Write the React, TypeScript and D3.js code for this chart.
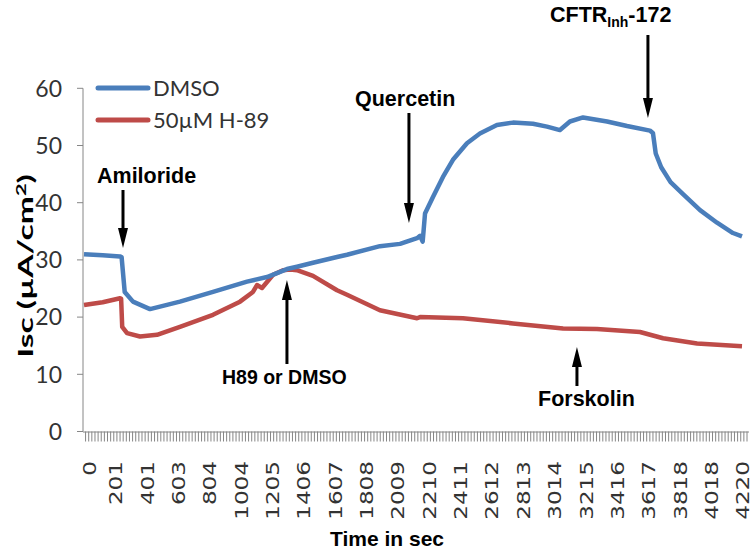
import React from "react";
import * as d3 from "d3";

// ---- data (time in s, Isc in µA/cm²) ----
const dmsoTime = [0, 120, 231, 241, 261, 314, 423, 615, 827, 1045, 1173, 1301, 1365, 1468, 1622, 1686, 1897, 2026, 2135, 2154, 2171, 2186, 2237, 2301, 2365, 2455, 2538, 2647, 2750, 2878, 2968, 3051, 3115, 3199, 3353, 3481, 3628, 3647, 3665, 3700, 3760, 3840, 3949, 4058, 4160, 4218];
const dmsoIsc = [31.0, 30.8, 30.6, 30.5, 24.4, 22.7, 21.4, 22.7, 24.4, 26.2, 27.0, 28.4, 28.8, 29.5, 30.5, 30.9, 32.4, 32.8, 33.8, 34.2, 33.2, 38.1, 41.0, 44.5, 47.5, 50.4, 52.1, 53.6, 54.0, 53.8, 53.3, 52.7, 54.2, 54.9, 54.2, 53.4, 52.6, 52.2, 48.6, 46.2, 43.6, 41.5, 38.7, 36.5, 34.7, 34.1];

const h89Time = [0, 120, 231, 238, 245, 276, 359, 468, 615, 827, 1000, 1083, 1109, 1141, 1212, 1276, 1321, 1365, 1468, 1622, 1686, 1897, 2135, 2154, 2429, 2750, 3071, 3288, 3564, 3712, 3930, 4218];
const h89Isc = [22.1, 22.6, 23.3, 23.2, 18.3, 17.2, 16.6, 16.9, 18.3, 20.4, 22.7, 24.4, 25.6, 25.1, 27.4, 28.2, 28.3, 28.2, 27.2, 24.7, 23.9, 21.2, 19.8, 20.0, 19.8, 18.9, 18.0, 17.9, 17.4, 16.3, 15.4, 14.9];

const xTickLabels = [0, 201, 401, 603, 804, 1004, 1205, 1406, 1607, 1808, 2009, 2210, 2411, 2612, 2813, 3014, 3215, 3416, 3617, 3818, 4018, 4220];
const yTicks = [0, 10, 20, 30, 40, 50, 60];
const sampleStep = 20.095; // seconds per category
const seriesNames = ["DMSO", "50\u00B5M H-89"];
const seriesColors = ["#4A7EBB", "#BE4B48"];

const annotationLabels = ["Amiloride", "Quercetin", "H89 or DMSO", "Forskolin"];
const annotationTimes = [250, 2083, 1301, 3160, 3615];

const W = 756;
const H = 553;

export default function App() {
  const x = d3.scaleLinear().domain([0, 4218]).range([84, 742]);
  const y = d3.scaleLinear().domain([0, 60]).range([431.5, 88.3]);

  const line = d3
    .line<[number, number]>()
    .x((d) => x(d[0]))
    .y((d) => y(d[1]))
    .curve(d3.curveLinear);

  const dmso = dmsoTime.map((t, i) => [t, dmsoIsc[i]] as [number, number]);
  const h89 = h89Time.map((t, i) => [t, h89Isc[i]] as [number, number]);

  const axisX0 = 83;
  const axisX1 = 749;
  const tickTimes = d3.range(-sampleStep / 2, 4300, sampleStep).filter((t) => x(t) >= axisX0 && x(t) <= axisX1 + 0.5);

  const gray = "#868686";
  const labelFont = "Lato, 'Open Sans', sans-serif";
  const boldFont = "'Liberation Sans', Arial, sans-serif";

  const Arrow = ({ ax, y0, y1 }: { ax: number; y0: number; y1: number }) => {
    const dir = y1 > y0 ? 1 : -1;
    const headLen = 20;
    const headW = 5;
    const shaftEnd = y1 - dir * headLen;
    return (
      <g>
        <line x1={ax} x2={ax} y1={y0} y2={shaftEnd} stroke="#000" strokeWidth={3} />
        <path d={`M${ax - headW},${shaftEnd} L${ax + headW},${shaftEnd} L${ax},${y1} Z`} fill="#000" />
      </g>
    );
  };

  return (
    <svg width={W} height={H} style={{ position: "absolute", left: 0, top: 0, background: "#fff" }}>
      {/* y axis */}
      <line x1={axisX0} x2={axisX0} y1={y(60)} y2={y(0)} stroke={gray} strokeWidth={1} />
      {yTicks.map((v) => (
        <g key={v}>
          <line x1={axisX0 - 6} x2={axisX0} y1={y(v)} y2={y(v)} stroke={gray} />
          <text x={62} y={y(v)} dy="0.36em" textAnchor="end" fontFamily={labelFont} fontSize={23} fill="#333">
            {v}
          </text>
        </g>
      ))}
      {/* x axis */}
      <line x1={axisX0} x2={axisX1} y1={y(0) + 0.5} y2={y(0) + 0.5} stroke={gray} strokeWidth={1} />
      {tickTimes.map((t, i) => (
        <line key={i} x1={x(t)} x2={x(t)} y1={y(0)} y2={y(0) + 10} stroke={gray} strokeWidth={1} />
      ))}
      {xTickLabels.map((t, i) => (
        <text
          key={t}
          transform={`translate(${x(t) + (i === 0 ? 12 : 7)},461) rotate(-90) scale(1.36,1)`}
          textAnchor="end"
          fontFamily="'DejaVu Sans', Verdana, sans-serif"
          fontSize={17}
          fill="#333"
        >
          {t}
        </text>
      ))}

      {/* lines */}
      <path d={line(h89) || ""} fill="none" stroke={seriesColors[1]} strokeWidth={4.5} strokeLinejoin="round" />
      <path d={line(dmso) || ""} fill="none" stroke={seriesColors[0]} strokeWidth={4.5} strokeLinejoin="round" />

      {/* legend */}
      {seriesNames.map((n, i) => (
        <g key={n}>
          <line x1={98} x2={148} y1={88 + i * 32} y2={88 + i * 32} stroke={seriesColors[i]} strokeWidth={5} strokeLinecap="round" />
          <text x={153} y={88 + i * 32} dy="0.36em" fontFamily={labelFont} fontSize={22} fill="#333">
            {n}
          </text>
        </g>
      ))}

      {/* axis titles */}
      <text
        transform={`translate(33,266) rotate(-90) scale(1.68,1)`}
        textAnchor="middle"
        fontFamily={labelFont}
        fontWeight="bold"
        fontSize={20}
        fill="#000"
      >
        Isc (µA/cm
        <tspan dy="-7" fontSize={13}>2</tspan>
        <tspan dy="7">)</tspan>
      </text>
      <text x={387} y={546} textAnchor="middle" fontFamily={boldFont} fontWeight="bold" fontSize={21} fill="#000">
        Time in sec
      </text>

      {/* annotations */}
      <text x={97} y={183} fontFamily={boldFont} fontWeight="bold" fontSize={21.5}>{annotationLabels[0]}</text>
      <Arrow ax={x(annotationTimes[0])} y0={190} y1={248} />

      <text x={355} y={106} fontFamily={boldFont} fontWeight="bold" fontSize={21.5}>{annotationLabels[1]}</text>
      <Arrow ax={x(annotationTimes[1])} y0={113} y1={223} />

      <text x={222} y={384} fontFamily={boldFont} fontWeight="bold" fontSize={19.5}>{annotationLabels[2]}</text>
      <Arrow ax={x(annotationTimes[2])} y0={364} y1={280} />

      <text x={538} y={406} fontFamily={boldFont} fontWeight="bold" fontSize={21.5}>{annotationLabels[3]}</text>
      <Arrow ax={x(annotationTimes[3])} y0={386} y1={347} />

      <text x={550} y={22} fontFamily={boldFont} fontWeight="bold" fontSize={21.5}>
        CFTR<tspan fontSize={14} dy="5">Inh</tspan><tspan dy="-5">-172</tspan>
      </text>
      <Arrow ax={x(annotationTimes[4])} y0={35} y1={118} />
    </svg>
  );
}
